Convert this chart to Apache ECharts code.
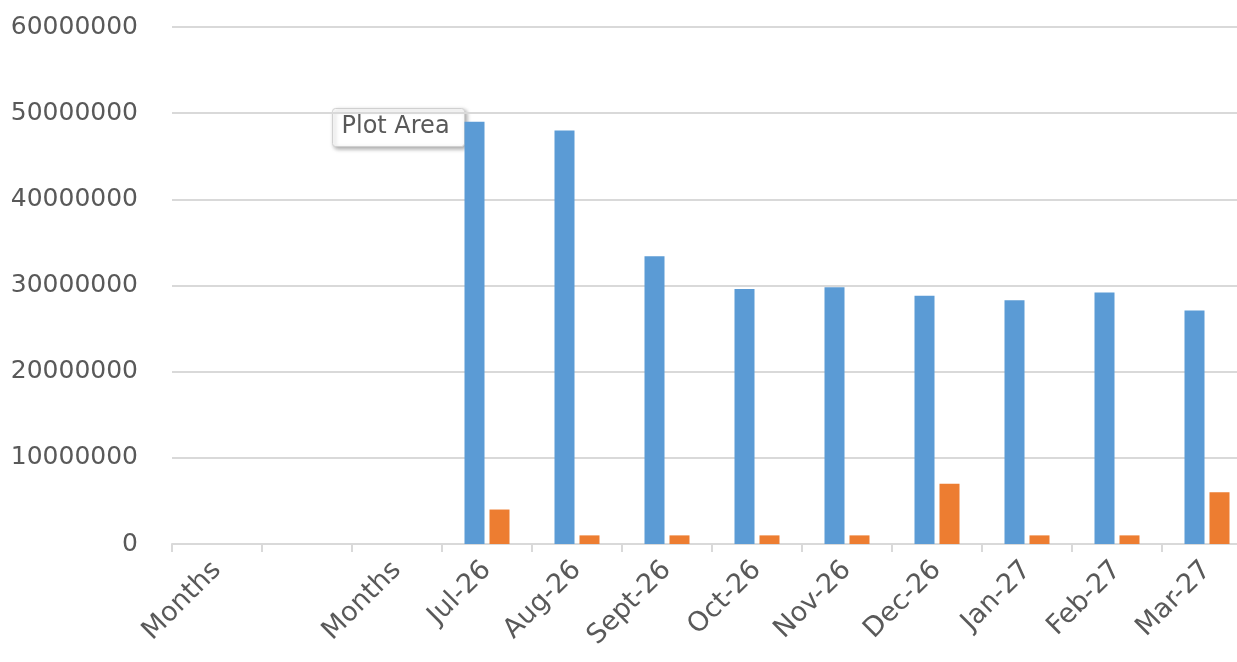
<!DOCTYPE html>
<html><head><meta charset="utf-8">
<script src="https://cdn.jsdelivr.net/npm/echarts@6/dist/echarts.min.js"></script>
<style>html,body{margin:0;padding:0;background:#fff;overflow:hidden;width:1237px;height:662px}#c{width:1260px;height:662px}</style>
</head><body><div id="c"></div>
<script>
const categories = ["Months", "", "Months", "Jul-26", "Aug-26", "Sept-26", "Oct-26", "Nov-26", "Dec-26", "Jan-27", "Feb-27", "Mar-27"];
const seriesA = [null, null, null, 49000000, 48000000, 33400000, 29600000, 29800000, 28800000, 28300000, 29200000, 27100000];
const seriesB = [null, null, null, 4000000, 1000000, 1000000, 1000000, 1000000, 7000000, 1000000, 1000000, 6000000];
const yMin = 0, yMax = 60000000, yInterval = 10000000;

const chart = echarts.init(document.getElementById('c'));
chart.setOption({
  animation: false,
  grid: {left: 172, top: 27, width: 1080, height: 517, containLabel: false},
  xAxis: {
    type: 'category', data: categories,
    axisLine: {lineStyle: {color: '#d9d9d9', width: 2}},
    axisTick: {show: true, length: 8, lineStyle: {color: '#d9d9d9', width: 2}},
    axisLabel: {rotate: 45, interval: 0, color: '#595959', fontSize: 27, fontFamily: 'DejaVu Sans', margin: 22}
  },
  yAxis: {
    type: 'value', min: yMin, max: yMax, interval: yInterval,
    axisLine: {show: false}, axisTick: {show: false},
    splitLine: {lineStyle: {color: '#d9d9d9', width: 2}},
    axisLabel: {color: '#595959', fontSize: 25, fontFamily: 'DejaVu Sans', margin: 34, formatter: v => String(v)}
  },
  series: [
    {type: 'bar', data: seriesA, barWidth: 20, barGap: '25%', itemStyle: {color: '#5b9bd5'}},
    {type: 'bar', data: seriesB, barWidth: 20, barGap: '25%', itemStyle: {color: '#ed7d31'}}
  ],
  graphic: [{
    type: 'group', left: 332, top: 108,
    children: [
      {type: 'rect', shape: {x: 0, y: 0, width: 132, height: 38, r: 3},
       style: {fill: '#fff', stroke: '#d0d0d0', lineWidth: 1, shadowBlur: 4, shadowOffsetX: 2, shadowOffsetY: 2, shadowColor: 'rgba(0,0,0,0.35)'}},
      {type: 'text', x: 9, y: 6, style: {text: 'Plot Area', fill: '#595959', fontSize: 24, fontFamily: 'DejaVu Sans'}}
    ]
  }]
});
</script></body></html>
